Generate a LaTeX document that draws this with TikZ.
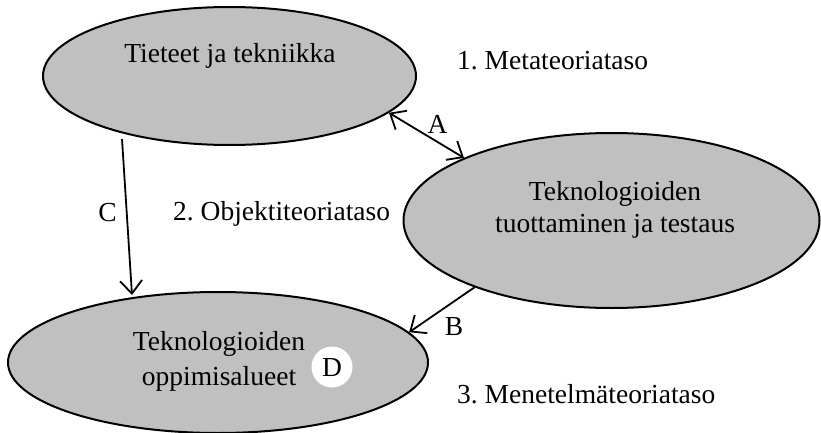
\documentclass[tikz,border=0pt]{standalone}
\usepackage{fontspec}
\setmainfont{Liberation Serif}
\frenchspacing
\usetikzlibrary{shapes.geometric,arrows.meta}
\definecolor{ellgray}{HTML}{C0C0C0}
\tikzset{
  x=1pt,y=-1pt,
  ell/.style={ellipse,draw=black,line width=2pt,fill=ellgray,inner sep=0pt},
  txt/.style={anchor=base,inner sep=0pt,font=\fontsize{27.5}{33}\selectfont},
  barb/.tip={Straight Barb[length=13pt,width=22pt,line width=1.8pt]},
  conn/.style={line width=1.8pt,-barb},
  dconn/.style={line width=1.8pt,barb-barb}
}
\begin{document}
\begin{tikzpicture}
\useasboundingbox (0,0) rectangle (821,433);
\fill[white] (0,0) rectangle (821,433);
\node[ell,minimum width=373pt,minimum height=138pt] (e1) at (229.5,76) {};
\node[ell,minimum width=416pt,minimum height=175pt] (e2) at (611.5,220.5) {};
\node[ell,minimum width=420pt,minimum height=141pt] (e3) at (218,362.5) {};
\node[txt] (t1) at (230,63) {Tieteet ja tekniikka};
\node[txt] (t2a) at (615,200) {Teknologioiden};
\node[txt] (t2b) at (615,232) {tuottaminen ja testaus};
\node[txt] (t3a) at (219,350) {Teknologioiden};
\node[txt] (t3b) at (219,385) {oppimisalueet};
\node[circle,fill=white,minimum size=41pt,inner sep=0pt] (d) at (332,367) {};
\node[txt] (dl) at (332,376) {D};
\node[txt,anchor=base west] (l1) at (457,70) {1. Metateoriataso};
\node[txt,anchor=base west] (l2) at (173,220) {2. Objektiteoriataso};
\node[txt,anchor=base west] (l3) at (457,403) {3. Menetelmäteoriataso};
\draw[dconn] (e1.-13) -- (e2.157.6);
\draw[conn] (e2.206.6) -- (e3.9.2);
\coordinate (cs) at (122,139);
\coordinate (ce) at (132,295);
\draw[conn] (cs) -- (ce);
\node[txt] (la) at (437.5,133) {A};
\node[txt] (lb) at (454,335) {B};
\node[txt] (lc) at (107.5,221) {C};
\end{tikzpicture}
\end{document}
